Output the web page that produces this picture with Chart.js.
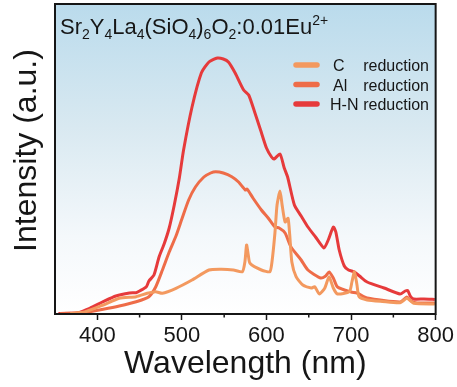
<!DOCTYPE html>
<html>
<head>
<meta charset="utf-8">
<script src="https://cdn.jsdelivr.net/npm/chart.js@4.4.1/dist/chart.umd.min.js"></script>
<style>
  html, body { margin: 0; padding: 0; background: #fff; }
</style>
</head>
<body>
<canvas id="pl" width="457" height="387"></canvas>
<script>
// emission spectra, wavelength in nm, intensity in arbitrary units
const cWave = [368, 385, 407, 426, 446, 459, 469, 477, 493, 512, 532, 547, 561, 571.5, 574.5, 576.5, 578.5, 580.5, 594, 604, 606.5, 610, 612.5, 616, 618.5, 622, 625.5, 627.5, 630, 635, 643, 653, 657, 662.5, 669, 674, 679, 684, 698, 701, 704, 707, 709.5, 719, 737, 758, 766, 774, 799];
const cInt = [0.5, 2, 9, 15.7, 17.3, 20.7, 22.3, 20.7, 25.7, 34, 44, 44.7, 44, 42.3, 52, 69, 59, 50.7, 44, 42.3, 52, 81, 109, 123, 109, 92, 95.7, 79, 52, 37.3, 29, 26, 27.3, 20, 26, 37.3, 26, 20, 22.3, 32, 42.3, 29, 17.3, 14, 12.5, 11.3, 15.7, 10.7, 10];

const alWave = [356, 383, 391, 407, 426, 446, 461, 469, 477, 485, 493, 500, 508, 516, 526, 534, 540, 549, 559, 567, 575, 577, 584, 594, 602, 610, 615, 622, 629, 641, 649, 664, 670, 674, 679, 684, 700, 707, 719, 758, 766, 771, 778, 799];
const alInt = [0.5, 1.3, 2.3, 4.7, 8, 12.3, 17.3, 27, 44, 62, 78, 95, 114, 127, 137, 141, 142.3, 141, 137.3, 132, 124, 125, 116, 104, 96, 87, 86, 81, 67, 54, 44, 36, 38, 42, 36, 27, 22, 21, 16, 12, 17, 13, 11, 11];

const hnWave = [354, 368, 376, 391, 407, 422, 438, 446, 450, 458, 461, 467, 473, 479, 485, 491, 497, 502, 512, 523, 532, 542, 549, 555, 563, 573, 579, 586, 593, 600, 606, 609, 616, 621, 625, 633, 641, 649, 658, 668, 673, 679, 682, 686, 692, 697, 704, 710, 719, 739, 758, 764, 767, 770, 774, 786, 799];
const hnInt = [0.5, 0.7, 1, 5.7, 12.3, 18, 21, 21.3, 23, 27.3, 33, 39, 57, 70, 86, 109, 136, 164, 207, 241, 252, 256, 255, 252, 241, 224, 219, 202, 184, 166, 157, 155, 160, 146, 137, 109, 98, 87, 77, 66, 74, 87, 82, 64, 48, 44, 42, 38, 32, 26, 20, 23, 23.5, 18, 15, 15, 14.5];

const seriesNames = ['C reduction', 'Al reduction', 'H-N reduction'];
const seriesColors = ['#f3995f', '#ee6c48', '#e63a3b'];

const xMajor = [400, 500, 600, 700, 800];
const xMinor = [450, 550, 650, 750];

const FONT = '"Liberation Sans", Arial, Helvetica, sans-serif';
const INK = '#161616';

const pts = (w, v) => w.map((x, i) => ({ x: x, y: v[i] }));

// blue-to-white wash behind the plot
const bgPlugin = {
  id: 'bg',
  beforeDraw(chart) {
    const { ctx, chartArea: a } = chart;
    const g = ctx.createLinearGradient(0, a.top, 0, a.bottom);
    g.addColorStop(0, '#badbec');
    g.addColorStop(0.4, '#d9e9f1');
    g.addColorStop(0.75, '#f4f8fb');
    g.addColorStop(1, '#ffffff');
    ctx.save();
    ctx.fillStyle = g;
    ctx.fillRect(a.left, a.top, a.right - a.left, a.bottom - a.top);
    ctx.restore();
  }
};

// box, minor ticks, formula, legend and y title
const decoPlugin = {
  id: 'deco',
  afterDatasetsDraw(chart) {
    const { ctx, chartArea: a } = chart;
    const xs = chart.scales.x;
    ctx.save();
    ctx.strokeStyle = INK;
    ctx.lineWidth = 2;
    ctx.strokeRect(a.left, a.top, a.right - a.left, a.bottom - a.top);

    ctx.lineWidth = 1.5;
    xMinor.forEach(v => {
      const px = xs.getPixelForValue(v);
      ctx.beginPath();
      ctx.moveTo(px, a.bottom);
      ctx.lineTo(px, a.bottom + 3.5);
      ctx.stroke();
    });

    // compound formula with sub/superscripts
    const parts = [['Sr', 0], ['2', 1], ['Y', 0], ['4', 1], ['La', 0], ['4', 1], ['(SiO', 0], ['4', 1], [')', 0], ['6', 1], ['O', 0], ['2', 1], [':0.01Eu', 0], ['2+', 2]];
    let x = 60;
    const base = 33.5;
    ctx.fillStyle = INK;
    ctx.textBaseline = 'alphabetic';
    ctx.textAlign = 'left';
    parts.forEach(([t, k]) => {
      ctx.font = (k === 0 ? '22px ' : '14px ') + FONT;
      const dy = k === 1 ? 5 : k === 2 ? -9 : 0;
      ctx.fillText(t, x, base + dy);
      x += ctx.measureText(t).width;
    });

    // legend
    const rows = [65, 84.5, 104];
    chart.data.datasets.forEach((ds, i) => {
      const y = rows[i];
      ctx.strokeStyle = ds.borderColor;
      ctx.lineWidth = 5.5;
      ctx.lineCap = 'round';
      ctx.beginPath();
      ctx.moveTo(296, y);
      ctx.lineTo(317, y);
      ctx.stroke();
      const sp = ds.label.indexOf(' ');
      ctx.font = '16px ' + FONT;
      ctx.fillStyle = INK;
      ctx.textAlign = 'left';
      ctx.fillText(ds.label.slice(0, sp), i === 2 ? 330 : 333, y + 6);
      ctx.textAlign = 'right';
      ctx.fillText(ds.label.slice(sp + 1), 429, y + 6);
    });

    ctx.translate(36, 150.5);
    ctx.rotate(-Math.PI / 2);
    ctx.font = '32px ' + FONT;
    ctx.textAlign = 'center';
    ctx.textBaseline = 'alphabetic';
    ctx.fillStyle = INK;
    ctx.fillText('Intensity (a.u.)', 0, 0);
    ctx.restore();
  }
};

const waves = [cWave, alWave, hnWave];
const ints = [cInt, alInt, hnInt];

new Chart(document.getElementById('pl'), {
  type: 'line',
  data: {
    datasets: seriesNames.map((n, i) => ({
      label: n,
      data: pts(waves[i], ints[i]),
      borderColor: seriesColors[i],
      borderWidth: 3,
      pointRadius: 0,
      tension: 0.2,
      fill: false
    }))
  },
  options: {
    responsive: false,
    devicePixelRatio: 1,
    animation: false,
    layout: { padding: { top: 4, right: 18, left: 0, bottom: 0 } },
    plugins: { legend: { display: false }, tooltip: { enabled: false } },
    scales: {
      x: {
        type: 'linear',
        min: 350,
        max: 800,
        afterBuildTicks: s => { s.ticks = xMajor.map(v => ({ value: v })); },
        afterFit: s => { s.height = 73; },
        ticks: { font: { size: 22, family: FONT }, color: INK, padding: 3, maxRotation: 0 },
        grid: { display: true, drawOnChartArea: false, drawTicks: true, tickLength: 6, tickWidth: 1.5, tickColor: INK },
        border: { display: false },
        title: { display: true, text: 'Wavelength (nm)', font: { size: 32, family: FONT }, color: INK, padding: { top: 0, bottom: 4 } }
      },
      y: {
        min: 0,
        max: 310,
        afterFit: s => { s.width = 55; },
        ticks: { display: false },
        grid: { display: false },
        border: { display: false }
      }
    }
  },
  plugins: [bgPlugin, decoPlugin]
});
</script>
</body>
</html>
